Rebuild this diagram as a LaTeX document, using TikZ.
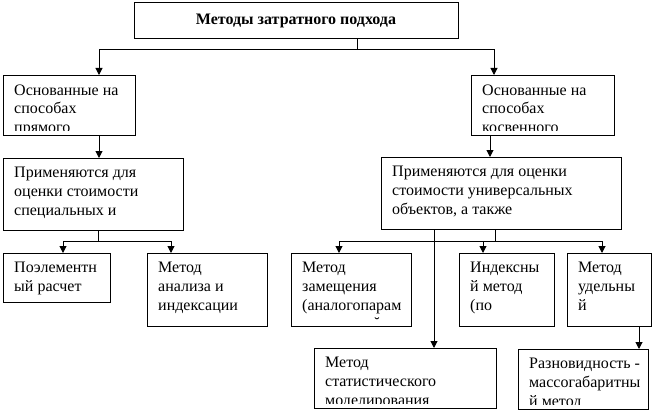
\documentclass[tikz,border=0pt]{standalone}
\usepackage{fontspec}
\setmainfont{Liberation Serif}
\usetikzlibrary{arrows.meta}
\newcommand\zbox[6]{%
  \node[box, minimum width=#4pt, minimum height=#5pt] (#1) at (#2,#3) {};
  \begin{scope}
    \clip (#2,#3) rectangle ++(#4,#5-5);
    \node[txt] (#1t) at (#2+11,#3+9.3) {#6};
  \end{scope}%
}
\begin{document}
\begin{tikzpicture}[x=1pt,y=-1pt,
  box/.style={draw, line width=1pt, rectangle, inner sep=0pt, anchor=north west},
  txt/.style={anchor=north west, inner sep=0pt, align=left, font=\fontsize{16}{18.7}\selectfont},
  arr/.style={line width=1pt, -{Triangle[width=7pt,length=7pt]}},
  ln/.style={line width=1pt}]
\useasboundingbox (0,0) rectangle (654,412);

\node[box, anchor=center, minimum width=324pt, minimum height=36pt,
  font=\fontsize{16}{19}\selectfont\bfseries] (top) at (296,21) {Методы затратного подхода};

\zbox{a1}{3}{75}{132}{60}{Основанные на\\способах\\прямого}
\zbox{b1}{471}{75}{143}{60}{Основанные на\\способах\\косвенного}
\zbox{a2}{3}{158}{180}{72}{Применяются для\\оценки стоимости\\специальных и}
\zbox{b2}{381}{157}{240}{72}{Применяются для оценки\\стоимости универсальных\\объектов, а также}
\zbox{a3}{3}{253}{107}{49}{Поэлементн\\ый расчет}
\zbox{a4}{147}{253}{120}{73}{Метод\\анализа и\\индексации}
\zbox{b3}{291}{253}{120}{73}{Метод\\замещения\\(аналогопарам}
\zbox{b4}{459}{253}{95}{73}{Индексны\\й метод\\(по}
\zbox{b5}{567}{253}{84}{73}{Метод\\удельны\\й}
\zbox{b6}{314}{348}{182}{60}{Метод\\статистического\\моделирования}
\zbox{b7}{518}{349}{130}{60}{Разновидность -\\массогабаритны\\й метод}

\node[inner sep=0pt, anchor=base, font=\fontsize{16}{19}\selectfont] (brv) at (377,328) {˘};

\coordinate (jt) at (357,50);
\draw[ln] (top.south -| jt) -- (jt);
\draw[arr] (jt) -| ([xshift=96pt]a1.north west);
\draw[arr] (jt) -| ([xshift=23pt]b1.north west);
\draw[arr] ([xshift=96pt]a1.south west) -- ([xshift=96pt]a2.north west);
\draw[arr] ([xshift=19pt]b1.south west) -- ([xshift=109pt]b2.north west);

\coordinate (ja) at (98,241);
\draw[ln] ([xshift=95pt]a2.south west) -- (ja);
\draw[arr] (ja) -| ([xshift=60pt]a3.north west);
\draw[arr] (ja) -| ([xshift=24pt]a4.north west);

\coordinate (jb) at (495,241);
\draw[ln] ([xshift=114pt]b2.south west) -- (jb);
\draw[arr] (jb) -| ([xshift=48pt]b3.north west);
\draw[arr] (jb) -| ([xshift=24pt]b4.north west);
\draw[arr] (jb) -| ([xshift=35pt]b5.north west);
\draw[arr] ([xshift=53pt]b2.south west) -- ([xshift=120pt]b6.north west);
\draw[arr] ([xshift=72pt]b5.south west) -- ([xshift=121pt]b7.north west);
\end{tikzpicture}
\end{document}
